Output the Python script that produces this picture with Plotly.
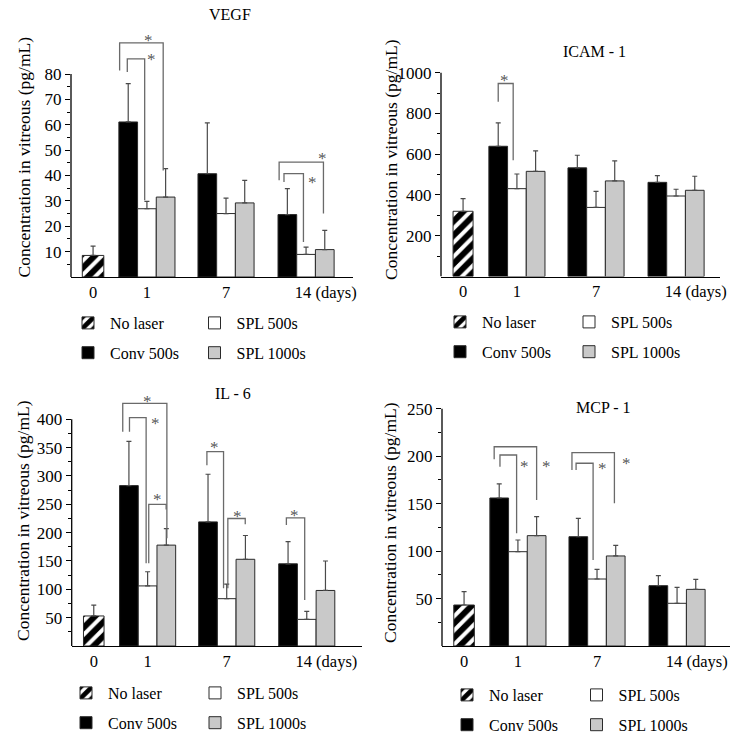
import plotly.graph_objects as go

W, H = 740, 744
FONT = "'Liberation Serif', 'Times New Roman', Times, serif"

# ---------------- data ----------------
days = ["0", "1", "7", "14 (days)"]
series_names = ["No laser", "Conv 500s", "SPL 500s", "SPL 1000s"]
panel_titles = ["VEGF", "ICAM - 1", "IL - 6", "MCP - 1"]

vegf_nolaser = [8.5]
vegf_nolaser_sd = [3.7]
vegf_conv = [61.1, 40.7, 24.6]
vegf_conv_sd = [15.1, 20.0, 10.2]
vegf_spl500 = [26.9, 25.0, 8.9]
vegf_spl500_sd = [2.9, 6.1, 2.9]
vegf_spl1000 = [31.5, 29.2, 10.8]
vegf_spl1000_sd = [11.2, 8.9, 7.6]

icam_nolaser = [320]
icam_nolaser_sd = [62]
icam_conv = [639, 533, 462]
icam_conv_sd = [115, 62, 33]
icam_spl500 = [431, 339, 395]
icam_spl500_sd = [72, 79, 33]
icam_spl1000 = [516, 469, 423]
icam_spl1000_sd = [100, 98, 69]

il6_nolaser = [53]
il6_nolaser_sd = [19]
il6_conv = [283, 219, 145]
il6_conv_sd = [78, 84, 39]
il6_spl500 = [106, 83.5, 47]
il6_spl500_sd = [25, 25.5, 14]
il6_spl1000 = [178, 153, 98]
il6_spl1000_sd = [29, 42, 52]

mcp_nolaser = [43.2]
mcp_nolaser_sd = [14.1]
mcp_conv = [156, 115.2, 63.6]
mcp_conv_sd = [14.8, 19.4, 10.5]
mcp_spl500 = [99.4, 70.6, 45.0]
mcp_spl500_sd = [12.3, 10.2, 16.8]
mcp_spl1000 = [116.3, 94.9, 59.7]
mcp_spl1000_sd = [20.0, 11.2, 10.6]

vegf_ticks = [10, 20, 30, 40, 50, 60, 70, 80]
icam_ticks = [200, 400, 600, 800, 1000]
il6_ticks = [50, 100, 150, 200, 250, 300, 350, 400]
mcp_ticks = [50, 100, 150, 200, 250]

# significance brackets: (group, left leg dx, right leg dx, top, left end, right end, star dx, star y)
vegf_sig = [(0, -1.46, 0.87, 92.3, 81.4, 42.0, 0.10, 94.6),
            (0, -1.05, -0.12, 86.0, 80.8, 30.2, 0.23, 87.4),
            (2, -1.44, 0.93, 45.3, 38.1, 25.0, 0.89, 48.3),
            (2, -1.18, -0.14, 40.7, 37.4, 13.8, 0.34, 39.0)]
icam_sig = [(0, -1.0, -0.2, 947, 857, 570, -0.65, 983)]
il6_sig = [(0, -1.33, 1.03, 428, 378, 190, 0.0, 439),
           (0, -0.97, -0.08, 403, 378, 146, 0.42, 400),
           (0, 0.06, 0.99, 250, 146, 241, 0.55, 265),
           (1, -1.06, -0.17, 343, 319, 102, -0.65, 358),
           (1, 0.06, 0.99, 225, 102, 215, 0.58, 235),
           (2, -1.09, -0.11, 226, 213.5, 81, -0.64, 237)]
mcp_sig = [(0, -1.27, 1.0, 210, 196.8, 153.9, 1.53, 193.3),
           (0, -0.96, -0.07, 201.3, 189, 118.8, 0.37, 193.3),
           (1, -1.34, 0.93, 203.8, 185.5, 150.4, 1.55, 196.8),
           (1, -1.12, -0.21, 192.6, 185.5, 90.7, 0.27, 191.8)]

# ---------------- layout constants ----------------
UNIT = 18.7                      # px per bar width
HATCH_X = 1.18
GROUP_X = [4.06, 8.29, 12.57]
OFFS = [-1, 0, 1]
DAYS_SHIFT = 1.05                # "14 (days)" label shift so that "14" sits under the group

panels = [
    dict(data=(vegf_nolaser, vegf_nolaser_sd, vegf_conv, vegf_conv_sd, vegf_spl500, vegf_spl500_sd, vegf_spl1000, vegf_spl1000_sd),
         ticks=vegf_ticks, sig=vegf_sig, left=71, right=353, base=277, toppx=74, domtop=25, hw=1.15,
         title=(230, 15), ylab=(23.5, 157), leg=(68, 194.5, 306)),
    dict(data=(icam_nolaser, icam_nolaser_sd, icam_conv, icam_conv_sd, icam_spl500, icam_spl500_sd, icam_spl1000, icam_spl1000_sd),
         ticks=icam_ticks, sig=icam_sig, left=441, right=720, base=276.5, toppx=72.7, domtop=50, hw=1.07,
         title=(594, 52), ylab=(391, 160), leg=(440, 569, 305)),
    dict(data=(il6_nolaser, il6_nolaser_sd, il6_conv, il6_conv_sd, il6_spl500, il6_spl500_sd, il6_spl1000, il6_spl1000_sd),
         ticks=il6_ticks, sig=il6_sig, left=71.7, right=362, base=646, toppx=419.3, domtop=385, hw=1.1,
         title=(233, 393), ylab=(23, 521), leg=(66, 195, 676)),
    dict(data=(mcp_nolaser, mcp_nolaser_sd, mcp_conv, mcp_conv_sd, mcp_spl500, mcp_spl500_sd, mcp_spl1000, mcp_spl1000_sd),
         ticks=mcp_ticks, sig=mcp_sig, left=442, right=730, base=646, toppx=408.8, domtop=395, hw=1.1,
         title=(603, 408), ylab=(390, 522), leg=(447, 576.5, 678)),
]

EC = "#4a4a4a"
BRK = "#6a6a6a"
OUT = "#2a2a2a"
GRAY = "#c9c9c9"
STAR = "rgba(80,80,80,0.99)"

fig = go.Figure()
layout = dict(width=W, height=H, margin=dict(l=0, r=0, t=0, b=0, autoexpand=False),
              paper_bgcolor="white", plot_bgcolor="white", barmode="overlay",
              font=dict(family=FONT, size=16, color="black"), showlegend=True)
shapes, annotations = [], []

for p, P in enumerate(panels):
    sfx = "" if p == 0 else str(p + 1)
    xa, ya = "x" + sfx, "y" + sfx
    lg1 = "legend" if p == 0 else f"legend{2 * p + 1}"
    lg2 = f"legend{2 * p + 2}"
    nl, nl_sd, cv, cv_sd, s5, s5_sd, s10, s10_sd = P["data"]

    def err(sd):
        return dict(type="data", symmetric=False, array=sd, arrayminus=[0] * len(sd),
                    color=EC, thickness=1.2, width=2.5)

    fig.add_trace(go.Bar(x=[HATCH_X], y=nl, width=[P["hw"]], name=series_names[0],
                         marker=dict(color="white", line=dict(color=OUT, width=1),
                                     pattern=dict(shape="/", fgcolor="black", bgcolor="white",
                                                  fgopacity=1, size=10, solidity=0.6)),
                         error_y=err(nl_sd), xaxis=xa, yaxis=ya, legend=lg1,
                         legendgroup=f"p{p}a"))
    fig.add_trace(go.Bar(x=[g + OFFS[0] for g in GROUP_X], y=cv, width=1, name=series_names[1],
                         marker=dict(color="black", line=dict(color=OUT, width=1)),
                         error_y=err(cv_sd), xaxis=xa, yaxis=ya, legend=lg1,
                         legendgroup=f"p{p}b"))
    fig.add_trace(go.Bar(x=[g + OFFS[1] for g in GROUP_X], y=s5, width=1, name=series_names[2],
                         marker=dict(color="white", line=dict(color=OUT, width=1)),
                         error_y=err(s5_sd), xaxis=xa, yaxis=ya, legend=lg2,
                         legendgroup=f"p{p}c"))
    fig.add_trace(go.Bar(x=[g + OFFS[2] for g in GROUP_X], y=s10, width=1, name=series_names[3],
                         marker=dict(color=GRAY, line=dict(color=OUT, width=1)),
                         error_y=err(s10_sd), xaxis=xa, yaxis=ya, legend=lg2,
                         legendgroup=f"p{p}d"))

    ticks = P["ticks"]
    step = ticks[1] - ticks[0]
    minor = [t - step / 2 for t in ticks]
    top_tick = ticks[-1]
    rmax = top_tick * (P["base"] - P["domtop"]) / (P["base"] - P["toppx"])
    xend = (P["right"] - P["left"]) / UNIT

    layout["xaxis" + sfx] = dict(
        domain=[P["left"] / W, P["right"] / W], range=[0, xend], anchor=ya,
        showline=True, linecolor="black", linewidth=1.3, ticks="", showgrid=False,
        zeroline=False, fixedrange=True, automargin=False,
        tickvals=[HATCH_X] + GROUP_X[:2] + [GROUP_X[2] + DAYS_SHIFT], ticktext=days,
        tickfont=dict(family=FONT, size=16.5, color="black"))
    layout["yaxis" + sfx] = dict(
        domain=[1 - P["base"] / H, 1 - P["domtop"] / H], range=[0, rmax], anchor=xa,
        showline=False, showgrid=False, zeroline=False, fixedrange=True, automargin=False,
        tickvals=ticks, ticktext=[str(t) for t in ticks], ticks="outside", ticklen=5,
        tickwidth=1.2, tickcolor="black",
        minor=dict(tickvals=minor, ticks="outside", ticklen=3, tickwidth=1, tickcolor="black"),
        tickfont=dict(family=FONT, size=17, color="black"))

    # y axis line (only up to the top tick)
    shapes.append(dict(type="line", xref=xa + " domain", yref=ya, x0=0, x1=0, y0=0, y1=top_tick,
                       line=dict(color="black", width=1.3)))

    # significance brackets
    for (g, dl, dr, top, yl, yr, sdx, sy) in P["sig"]:
        x1 = GROUP_X[g] + dl
        x2 = GROUP_X[g] + dr
        shapes.append(dict(type="path", xref=xa, yref=ya,
                           path=f"M {x1},{yl} L {x1},{top} L {x2},{top} L {x2},{yr}",
                           line=dict(color=BRK, width=1.3)))
        annotations.append(dict(text="*", xref=xa, yref=ya, x=GROUP_X[g] + sdx, y=sy,
                                showarrow=False, yshift=-4,
                                font=dict(family=FONT, size=17, color=STAR)))

    # panel title & y title
    tx, ty = P["title"]
    annotations.append(dict(text=panel_titles[p], xref="paper", yref="paper", x=tx / W, y=1 - ty / H,
                            xanchor="center", yanchor="middle", showarrow=False,
                            font=dict(family=FONT, size=16, color="black")))
    lx, ly = P["ylab"]
    annotations.append(dict(text="Concentration in vitreous (pg/mL)", xref="paper", yref="paper",
                            x=lx / W, y=1 - ly / H, xanchor="center", yanchor="middle",
                            textangle=-90, showarrow=False,
                            font=dict(family=FONT, size=17.5, color="black")))

    c1, c2, lt = P["leg"]
    for name, cx in ((lg1, c1), (lg2, c2)):
        layout[name] = dict(x=(cx - 2) / W, y=1 - lt / H, xanchor="left", yanchor="top",
                            orientation="v", traceorder="grouped", tracegroupgap=6,
                            itemwidth=34,
                            bgcolor="rgba(0,0,0,0)", borderwidth=0,
                            font=dict(family=FONT, size=16, color="black"))

layout["shapes"] = shapes
layout["annotations"] = annotations
fig.update_layout(**layout)
fig.write_html("out.html", config={"displayModeBar": False})

# remove the browser's default page margin so the figure sits at (0, 0)
with open("out.html", "r", encoding="utf-8") as f:
    html = f.read()
html = html.replace("<head>", "<head><style>html,body{margin:0;padding:0;overflow:hidden;}</style>", 1)
with open("out.html", "w", encoding="utf-8") as f:
    f.write(html)
